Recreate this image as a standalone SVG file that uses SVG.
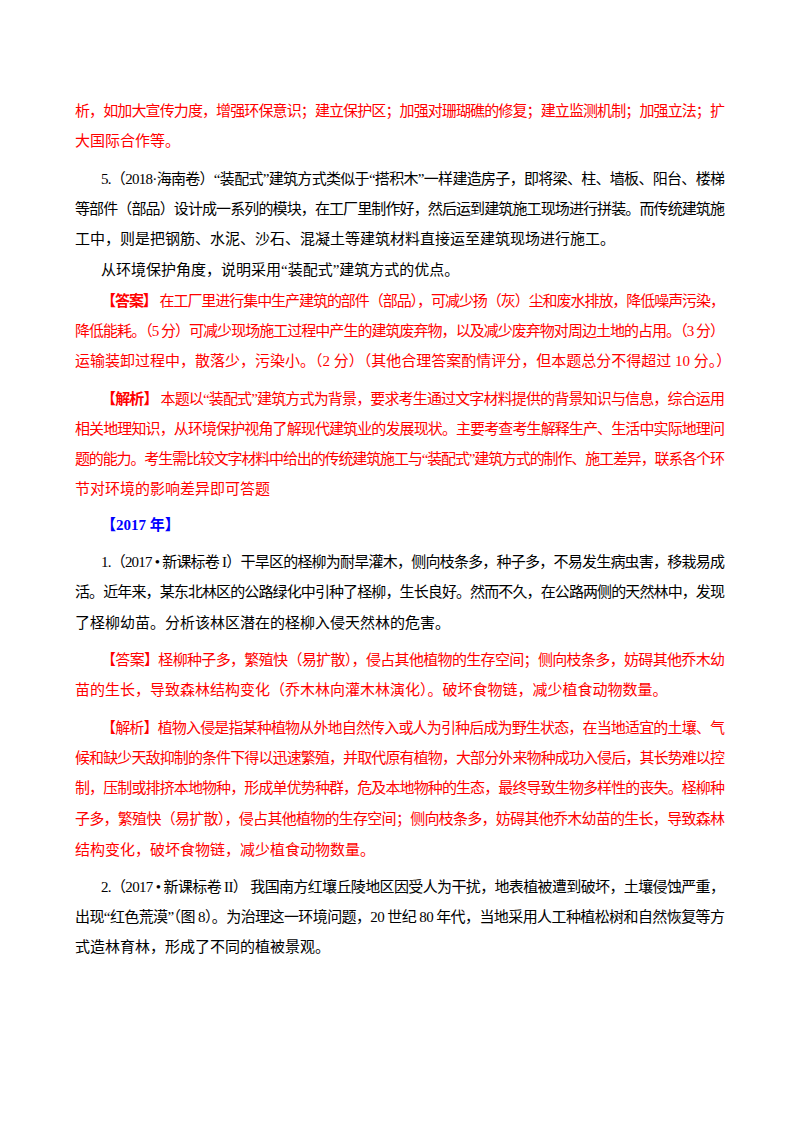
<svg xmlns="http://www.w3.org/2000/svg" width="800" height="1132" viewBox="0 0 800 1132">
<style>
text{font-family:"Liberation Serif","Noto Sans CJK SC",serif;font-size:15px;fill:#000}
.r{fill:#ff0000}
.b{fill:#0000ff;font-weight:bold}
.bd{font-weight:bold}
</style>
<rect width="800" height="1132" fill="#fff"/>
<g id="text">
<text class="r" x="75" y="116" textLength="650" lengthAdjust="spacing">析，如加大宣传力度，增强环保意识；建立保护区；加强对珊瑚礁的修复；建立监测机制；加强立法；扩</text>
<text class="r" x="75" y="146">大国际合作等。</text>
<text x="101" y="184" textLength="624" lengthAdjust="spacing">5.（2018·海南卷）“装配式”建筑方式类似于“搭积木”一样建造房子，即将梁、柱、墙板、阳台、楼梯</text>
<text x="75" y="214" textLength="650" lengthAdjust="spacing">等部件（部品）设计成一系列的模块，在工厂里制作好，然后运到建筑施工现场进行拼装。而传统建筑施</text>
<text x="75" y="244">工中，则是把钢筋、水泥、沙石、混凝土等建筑材料直接运至建筑现场进行施工。</text>
<text x="101" y="275">从环境保护角度，说明采用“装配式”建筑方式的优点。</text>
<text class="r" x="101" y="306" textLength="624" lengthAdjust="spacing"><tspan class="bd">【答案】</tspan> 在工厂里进行集中生产建筑的部件（部品），可减少扬（灰）尘和废水排放，降低噪声污染，</text>
<text class="r" x="75" y="336" textLength="650" lengthAdjust="spacing">降低能耗。（5 分）可减少现场施工过程中产生的建筑废弃物，以及减少废弃物对周边土地的占用。（3 分）</text>
<text class="r" x="75" y="366">运输装卸过程中，散落少，污染小。（2 分）（其他合理答案酌情评分，但本题总分不得超过 10 分。）</text>
<text class="r" x="101" y="404" textLength="624" lengthAdjust="spacing"><tspan class="bd">【解析】</tspan> 本题以“装配式”建筑方式为背景，要求考生通过文字材料提供的背景知识与信息，综合运用</text>
<text class="r" x="75" y="434" textLength="650" lengthAdjust="spacing">相关地理知识，从环境保护视角了解现代建筑业的发展现状。主要考查考生解释生产、生活中实际地理问</text>
<text class="r" x="75" y="464" textLength="650" lengthAdjust="spacing">题的能力。考生需比较文字材料中给出的传统建筑施工与“装配式”建筑方式的制作、施工差异，联系各个环</text>
<text class="r" x="75" y="494">节对环境的影响差异即可答题</text>
<text class="b" x="101" y="530">【2017 年】</text>
<text x="101" y="567" textLength="624" lengthAdjust="spacing">1.（2017 • 新课标卷 I）干旱区的柽柳为耐旱灌木，侧向枝条多，种子多，不易发生病虫害，移栽易成</text>
<text x="75" y="597" textLength="650" lengthAdjust="spacing">活。近年来，某东北林区的公路绿化中引种了柽柳，生长良好。然而不久，在公路两侧的天然林中，发现</text>
<text x="75" y="628">了柽柳幼苗。分析该林区潜在的柽柳入侵天然林的危害。</text>
<text class="r" x="101" y="665" textLength="624" lengthAdjust="spacing">【答案】柽柳种子多，繁殖快（易扩散），侵占其他植物的生存空间；侧向枝条多，妨碍其他乔木幼</text>
<text class="r" x="75" y="695">苗的生长，导致森林结构变化（乔木林向灌木林演化）。破坏食物链，减少植食动物数量。</text>
<text class="r" x="101" y="733" textLength="624" lengthAdjust="spacing">【解析】植物入侵是指某种植物从外地自然传入或人为引种后成为野生状态，在当地适宜的土壤、气</text>
<text class="r" x="75" y="763" textLength="650" lengthAdjust="spacing">候和缺少天敌抑制的条件下得以迅速繁殖，并取代原有植物，大部分外来物种成功入侵后，其长势难以控</text>
<text class="r" x="75" y="793" textLength="650" lengthAdjust="spacing">制，压制或排挤本地物种，形成单优势种群，危及本地物种的生态，最终导致生物多样性的丧失。柽柳种</text>
<text class="r" x="75" y="824" textLength="650" lengthAdjust="spacing">子多，繁殖快（易扩散），侵占其他植物的生存空间；侧向枝条多，妨碍其他乔木幼苗的生长，导致森林</text>
<text class="r" x="75" y="855">结构变化，破坏食物链，减少植食动物数量。</text>
<text x="101" y="892" textLength="624" lengthAdjust="spacing">2.（2017 • 新课标卷 II） 我国南方红壤丘陵地区因受人为干扰，地表植被遭到破坏，土壤侵蚀严重，</text>
<text x="75" y="922" textLength="650" lengthAdjust="spacing">出现“红色荒漠”（图 8）。为治理这一环境问题，20 世纪 80 年代，当地采用人工种植松树和自然恢复等方</text>
<text x="75" y="952">式造林育林，形成了不同的植被景观。</text>
</g>
</svg>
